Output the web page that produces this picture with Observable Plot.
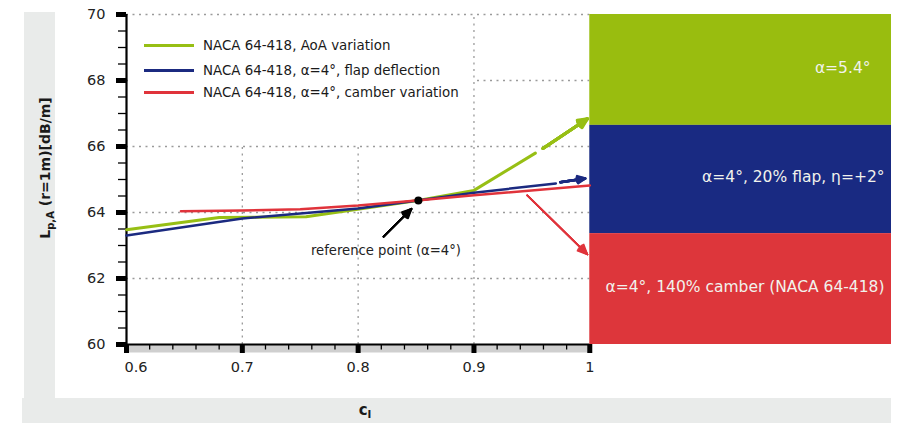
<!DOCTYPE html>
<html><head><meta charset="utf-8">
<script src="https://cdn.jsdelivr.net/npm/d3@7"></script>
<script src="https://cdn.jsdelivr.net/npm/@observablehq/plot@0.6"></script>
<style>
body{margin:0;background:#fff;font-family:"DejaVu Sans",sans-serif;}
#wrap{position:relative;width:916px;height:423px;overflow:hidden;}
.band{position:absolute;background:#e9ebea;}
#legend{position:absolute;left:128px;top:16px;width:345px;height:129px;background:#fff;}
.row{position:absolute;left:16px;height:20px;display:flex;align-items:center;font-size:13.4px;color:#1a1a1a;white-space:nowrap;}
.sw{width:50px;height:3px;margin-right:9px;}
svg{position:absolute;left:0;top:0;}
</style></head>
<body>
<div id="wrap">
  <div class="band" style="left:24px;top:12px;width:31px;height:386px"></div>
  <div class="band" style="left:22px;top:398px;width:869px;height:25px"></div>
</div>
<script>
// ---- data ----
const seriesNames = ["NACA 64-418, AoA variation", "NACA 64-418, α=4°, flap deflection", "NACA 64-418, α=4°, camber variation"];
const seriesColors = ["#97bf14", "#1b2a80", "#e0333b"];

const aoaCl = [0.6, 0.68, 0.755, 0.853, 0.9, 0.953];
const aoaL  = [63.48, 63.85, 63.87, 64.37, 64.67, 65.8];
const flapCl = [0.6, 0.7, 0.8, 0.853, 0.9, 0.9707];
const flapL  = [63.3, 63.82, 64.12, 64.37, 64.6, 64.88];
const camberCl = [0.647, 0.7, 0.75, 0.8, 0.853, 0.9, 1.0];
const camberL  = [64.04, 64.06, 64.1, 64.21, 64.37, 64.52, 64.82];

// trend arrows: aoa, flap, camber, reference pointer
const arrowCl1 = [0.9595, 0.9745, 0.946, 0.822];
const arrowL1  = [65.94, 64.92, 64.52, 63.27];
const arrowCl2 = [0.998, 0.996, 0.998, 0.846];
const arrowL2  = [66.84, 65.03, 62.73, 64.11];

const refCl = [0.852];
const refL = [64.36];
const refLabel = ["reference point (α=4°)"];
const refLabelCl = [0.824];
const refLabelL = [62.85];

const boxLabels = ["α=5.4°", "α=4°, 20% flap, η=+2°", "α=4°, 140% camber (NACA 64-418)"];
const boxLow  = [66.64, 63.36, 60];
const boxHigh = [70, 66.64, 63.36];
const boxColors = ["#99bd0f", "#192a82", "#dd363b"];

const yMajor = [60, 62, 64, 66, 68, 70];
const yMinor = [60.5, 61, 61.5, 62.5, 63, 63.5, 64.5, 65, 65.5, 66.5, 67, 67.5, 68.5, 69, 69.5];
const xMajor = [0.6, 0.7, 0.8, 0.9, 1.0];
const xMajorLabels = ["0.6", "0.7", "0.8", "0.9", "1"];
const xMinor = [0.62, 0.64, 0.66, 0.68, 0.72, 0.74, 0.76, 0.78, 0.82, 0.84, 0.86, 0.88, 0.92, 0.94, 0.96, 0.98];
const gridY = [62, 64, 66, 68, 70];
const gridX = [0.7, 0.8, 0.9];

// ---- build ----
const xMax = 1.2605;
const pts = (xs, ys) => xs.map((x, i) => ({x, y: ys[i]}));
const arrows = (i, color, sw, hl) => [50, 38, 26, 14, 4].map(a =>
  Plot.arrow([i], {x1: j => arrowCl1[j], y1: j => arrowL1[j], x2: j => arrowCl2[j], y2: j => arrowL2[j],
    stroke: color, strokeWidth: sw, headLength: hl, headAngle: a}));
const grid = {stroke: "#9a9a9a", strokeWidth: 1.3, strokeDasharray: "2,4.5"};

const marks = [
  Plot.ruleY(gridY, {y: d => d, x1: 0.6, x2: 1, ...grid}),
  Plot.ruleX(gridX, {x: d => d, y1: 60, y2: 70, ...grid}),
  ...boxLabels.map((_, i) => Plot.rect([i], {x1: 1, x2: xMax, y1: boxLow[i], y2: boxHigh[i], fill: boxColors[i]})),
  Plot.ruleY([60], {y: d => d, x1: 0.6, x2: 1, dy: 4, strokeWidth: 8, stroke: "#cfcfcf"}),
  Plot.axisY(yMinor, {tickSize: 8, strokeWidth: 1.3, tickFormat: () => "", label: null}),
  Plot.axisY(yMajor, {tickSize: 10, strokeWidth: 5, tickPadding: 11, fontSize: 14.5, label: null, fill: "#222"}),
  Plot.axisX(xMinor, {tickSize: 5.5, strokeWidth: 1.3, tickFormat: () => "", label: null}),
  Plot.axisX(xMajor, {tickSize: 9, strokeWidth: 5, tickFormat: () => "", label: null}),
  Plot.text(xMajor.slice(1), {x: d => d, y: 60, dy: 23, text: (d, i) => xMajorLabels[i + 1], fontSize: 14.5, fill: "#222"}),
  Plot.text([0], {x: i => xMajor[i], y: 60, dy: 23, dx: -2, textAnchor: "start", text: i => xMajorLabels[i], fontSize: 14.5, fill: "#222"}),
  Plot.ruleX([0.6], {x: d => d, y1: 60, y2: 70, strokeWidth: 2.2, stroke: "#000"}),
  Plot.ruleY([60], {y: d => d, x1: 0.6, x2: 1, strokeWidth: 2.2, stroke: "#000"}),
  Plot.line(pts(aoaCl, aoaL), {x: "x", y: "y", stroke: seriesColors[0], strokeWidth: 3}),
  Plot.line(pts(flapCl, flapL), {x: "x", y: "y", stroke: seriesColors[1], strokeWidth: 2.5}),
  Plot.line(pts(camberCl, camberL), {x: "x", y: "y", stroke: seriesColors[2], strokeWidth: 2.5}),
  ...arrows(0, seriesColors[0], 3, 5.2),
  ...arrows(1, seriesColors[1], 2.5, 6),
  ...arrows(2, seriesColors[2], 1.6, 10),
  ...arrows(3, "#000", 2, 7.5),
  Plot.dot(pts(refCl, refL), {x: "x", y: "y", r: 4, fill: "#000"}),
  Plot.text(refLabel, {x: (d, i) => refLabelCl[i], y: (d, i) => refLabelL[i], text: d => d, fontSize: 13.2, fill: "#222"}),
  Plot.text([0], {x: xMax, y: i => (boxLow[i] + boxHigh[i]) / 2, dy: -2, dx: -21, textAnchor: "end", text: i => boxLabels[i], fill: "#f1f2ec", fontSize: 15.5}),
  Plot.text([1, 2], {x: xMax, y: i => (boxLow[i] + boxHigh[i]) / 2, dy: -2, dx: -7, textAnchor: "end", text: i => boxLabels[i], fill: "#f1f2ec", fontSize: 15.5})
];

const chart = Plot.plot({
  width: 916, height: 423,
  marginLeft: 126, marginRight: 25, marginTop: 14, marginBottom: 79,
  style: {background: "transparent", fontFamily: "DejaVu Sans", overflow: "visible"},
  x: {domain: [0.6, xMax]},
  y: {domain: [60, 70]},
  marks
});
document.getElementById("wrap").appendChild(chart);

// axis titles
const svg = d3.select(chart);
const yl = svg.append("text").attr("transform", "translate(50,168) rotate(-90)")
  .attr("text-anchor", "middle").attr("font-size", 14).attr("font-weight", "bold").attr("fill", "#1a1a1a");
yl.append("tspan").text("L");
yl.append("tspan").attr("font-size", 10).attr("dy", 4).text("p,A");
yl.append("tspan").attr("dy", -4).text(" (r=1m)[dB/m]");
const xl = svg.append("text").attr("x", 365).attr("y", 415)
  .attr("text-anchor", "middle").attr("font-size", 15).attr("font-weight", "bold").attr("fill", "#1a1a1a");
xl.append("tspan").text("c");
xl.append("tspan").attr("font-size", 11).attr("dy", 3).text("l");

// legend
const legend = d3.select("#wrap").append("div").attr("id", "legend");
const rowTops = [19.7, 44, 66.7];
seriesNames.forEach((name, i) => {
  const row = legend.append("div").attr("class", "row").style("top", rowTops[i] + "px");
  row.append("span").attr("class", "sw").style("background", seriesColors[i]);
  row.append("span").text(name);
});
</script>
</body></html>
